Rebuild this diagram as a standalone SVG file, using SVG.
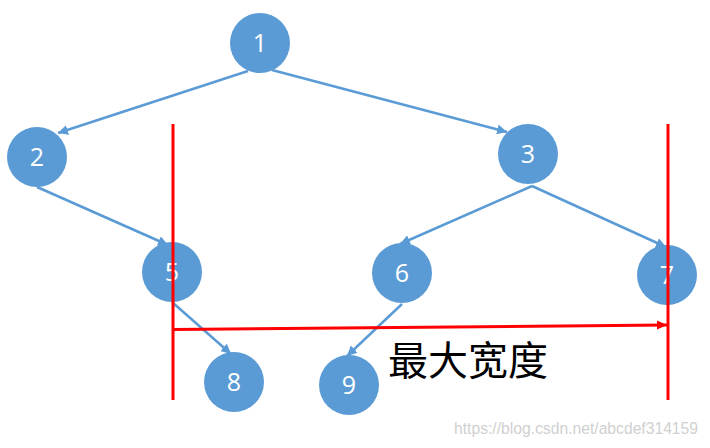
<svg xmlns="http://www.w3.org/2000/svg" width="710" height="448" viewBox="0 0 710 448">
<style>
.node circle{fill:#5B9BD5;}
.node text{fill:#fff;font-family:"Open Sans","Liberation Sans",sans-serif;font-size:25px;text-anchor:middle;}
.edge{stroke:#5B9BD5;stroke-width:2.5;fill:none;marker-end:url(#ab);}
.red{stroke:#FF0000;stroke-width:3;fill:none;}
</style>
<defs>
<marker id="ab" markerUnits="userSpaceOnUse" markerWidth="12" markerHeight="10" refX="10" refY="5" orient="auto">
<path d="M0,0 L10,5 L0,10 Z" fill="#5B9BD5"/>
</marker>
<marker id="ar" markerUnits="userSpaceOnUse" markerWidth="12" markerHeight="10" refX="10" refY="5" orient="auto">
<path d="M0,0.5 L10,5 L0,9.5 Z" fill="#FF0000"/>
</marker>
</defs>
<rect width="710" height="448" fill="#fff"/>
<g id="connectors">
<line class="edge" x1="248" y1="71" x2="58" y2="133"/>
<line class="edge" x1="272" y1="70" x2="507" y2="132"/>
<line class="edge" x1="532" y1="186" x2="400" y2="244"/>
<line class="edge" x1="532" y1="186" x2="666" y2="247"/>
<line class="edge" x1="37" y1="187" x2="168" y2="245"/>
<line class="edge" x1="172" y1="302" x2="231" y2="354"/>
<line class="edge" x1="402" y1="304" x2="347" y2="356"/>
</g>
<g id="node1" class="node"><circle cx="260" cy="43" r="30"/><text x="260" y="52">1</text></g>
<g id="node2" class="node"><circle cx="37" cy="157" r="30"/><text x="37" y="166">2</text></g>
<g id="node3" class="node"><circle cx="528" cy="154" r="30"/><text x="528" y="163">3</text></g>
<g id="node5" class="node"><circle cx="172" cy="272" r="30"/><text x="172" y="281">5</text></g>
<g id="node6" class="node"><circle cx="402" cy="273" r="30"/><text x="402" y="282">6</text></g>
<g id="node7" class="node"><circle cx="667" cy="275" r="30"/><text x="667" y="284">7</text></g>
<g id="node8" class="node"><circle cx="234" cy="382" r="30"/><text x="234" y="391">8</text></g>
<g id="node9" class="node"><circle cx="349" cy="385" r="30"/><text x="349" y="394">9</text></g>
<g id="measure">
<line class="red" x1="173" y1="124" x2="173" y2="400"/>
<line class="red" x1="668" y1="124" x2="668" y2="400"/>
<line class="red" x1="173" y1="329.5" x2="667" y2="325" marker-end="url(#ar)"/>
<text x="388" y="375" font-family="'Noto Sans CJK SC',sans-serif" font-size="40" fill="#000">最大宽度</text>
</g>
<text x="454" y="434" font-family="'Liberation Sans',Arial,sans-serif" font-size="16" fill="#D0D0D0" textLength="244" lengthAdjust="spacingAndGlyphs">https://blog.csdn.net/abcdef314159</text>
</svg>
